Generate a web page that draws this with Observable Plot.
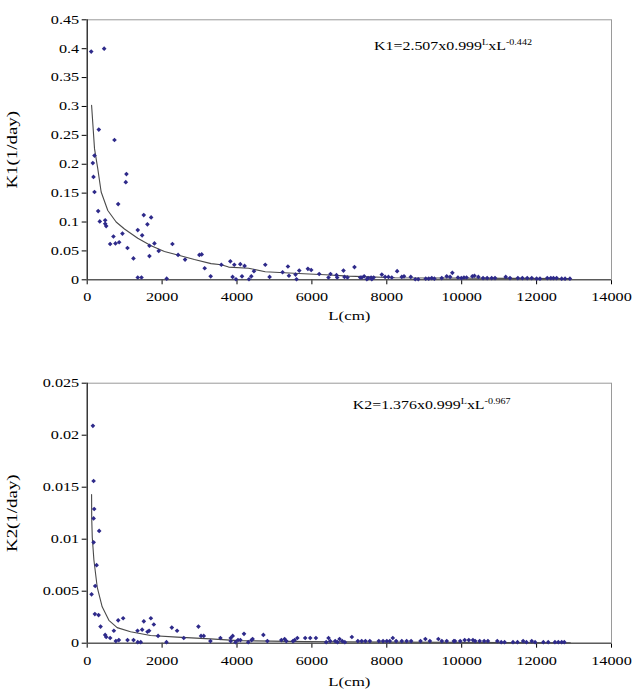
<!DOCTYPE html>
<html>
<head>
<meta charset="utf-8">
<script src="https://cdn.jsdelivr.net/npm/d3@7"></script>
<script src="https://cdn.jsdelivr.net/npm/@observablehq/plot@0.6"></script>
<style>
  html, body { margin: 0; padding: 0; background: #fff; }
  #wrap { width: 633px; }
  #wrap svg { display: block; }
</style>
</head>
<body>
<div id="wrap"></div>
<script>
// ---------- tick labels ----------
const xTicks = [0, 2000, 4000, 6000, 8000, 10000, 12000, 14000];
const yTicks1 = [0, 0.05, 0.1, 0.15, 0.2, 0.25, 0.3, 0.35, 0.4, 0.45];
const yTicks2 = [0, 0.005, 0.01, 0.015, 0.02, 0.025];
const xLabel = "L(cm)";
const yLabel1 = "K1(1/day)";
const yLabel2 = "K2(1/day)";

// ---------- K1 observations ----------
const k1L = [107,453,310,728,195,150,168,195,1048,1030,293,336,480,480,507,827,613,701,755,853,941,1075,1235,1350,1467,1510,1608,1707,1662,1795,1662,1910,1350,1450,2123,2275,2427,2613,2995,3057,3137,3297,3582,3822,3928,4088,4203,3883,3973,4133,4320,4382,4453,4755,4870,5217,5360,5387,5563,5590,5662,5893,5982,6195,6443,6497,6657,6675,6843,6870,6950,7137,7290,7333,7395,7467,7500,7580,7600,7650,7867,7955,8044,8133,8276,8400,8460,8640,8760,8840,9040,9120,9200,9270,9467,9600,9690,9750,9900,9990,10060,10130,10285,10340,10445,10570,10680,10800,10890,11175,11290,11500,11620,11750,11870,12000,12090,12285,12380,12450,12535,12670,12760,12890];
const k1V = [0.395,0.400,0.260,0.242,0.215,0.202,0.178,0.152,0.183,0.169,0.119,0.101,0.103,0.097,0.093,0.131,0.062,0.075,0.063,0.065,0.080,0.055,0.037,0.086,0.077,0.112,0.096,0.108,0.059,0.063,0.041,0.050,0.004,0.004,0.002,0.062,0.043,0.035,0.043,0.044,0.020,0.006,0.026,0.032,0.026,0.027,0.024,0.005,0.001,0.006,0.001,0.006,0.015,0.026,0.005,0.013,0.023,0.007,0.009,0.001,0.016,0.019,0.017,0.010,0.004,0.010,0.008,0.004,0.016,0.005,0.004,0.022,0.004,0.004,0.006,0.001,0.003,0.004,0.001,0.004,0.009,0.005,0.005,0.004,0.015,0.005,0.006,0.005,0.001,0.001,0.002,0.002,0.003,0.002,0.003,0.006,0.005,0.012,0.004,0.003,0.004,0.004,0.006,0.007,0.005,0.003,0.003,0.003,0.003,0.005,0.003,0.003,0.003,0.003,0.003,0.002,0.002,0.003,0.003,0.003,0.003,0.002,0.002,0.002];

// ---------- K1 trend line ----------
const fit1L = [117,195,283,373,550,773,995,1350,1707,2062,2417,2862,3307,3582,3777,4310,4755,5644,6355,6977,8222,9500,12900];
const fit1V = [0.302,0.227,0.192,0.152,0.120,0.100,0.088,0.072,0.059,0.049,0.043,0.035,0.028,0.026,0.022,0.020,0.014,0.011,0.0087,0.0063,0.0035,0.003,0.002];

// ---------- K2 observations ----------
const k2L = [152,171,187,171,320,171,251,213,117,205,304,357,480,507,613,712,765,845,827,960,1077,1237,1344,1350,1430,1467,1512,1610,1653,1700,1779,1893,2117,2259,2400,2579,2970,3040,3112,3290,3557,3832,3885,3832,3960,4027,4090,4187,4300,4390,4417,4704,4811,5184,5272,5317,5495,5540,5611,5821,5955,6107,6381,6444,6489,6622,6684,6739,6810,6880,7067,7227,7330,7430,7547,7787,7900,8000,8080,8160,8250,8400,8530,8650,8900,9030,9150,9376,9470,9600,9790,9820,9960,10080,10190,10300,10360,10480,10600,10700,10950,11055,11145,11370,11490,11640,11730,11870,11960,12180,12310,12490,12580,12670,12740];
const k2V = [0.0209,0.0156,0.0129,0.0120,0.0108,0.0097,0.0075,0.0055,0.0047,0.0028,0.0027,0.0016,0.0008,0.0006,0.0005,0.0012,0.0002,0.0003,0.0022,0.0024,0.0003,0.0003,0.0012,0.0001,0.0001,0.0013,0.0021,0.0011,0.0012,0.0024,0.0018,0.0007,0.0001,0.0015,0.0012,0.0005,0.0016,0.0007,0.0007,0.0002,0.0005,0.0005,0.0007,0.0002,0.0001,0.0003,0.0003,0.0009,0.0001,0.0003,0.0004,0.0008,0.0002,0.0003,0.0004,0.0002,0.0002,0.0003,0.0005,0.0005,0.0005,0.0005,0.0001,0.0005,0.0002,0.0002,0.0001,0.0004,0.0002,0.0001,0.0006,0.0002,0.0002,0.0002,0.0002,0.0002,0.0002,0.0002,0.0002,0.0005,0.0002,0.0002,0.0002,0.0002,0.0002,0.0004,0.0002,0.0004,0.0002,0.0002,0.0002,0.0002,0.0002,0.0003,0.0003,0.0003,0.0002,0.0002,0.0002,0.0002,0.0002,0.0001,0.0001,0.0001,0.0001,0.0002,0.0001,0.0002,0.0001,0.0001,0.0001,0.0001,0.0001,0.0001,0.0001];

// ---------- K2 trend line ----------
const fit2L = [117,120,135,179,267,400,579,800,1157,1690,2400,3290,4027,4915,5800,7930,12900];
const fit2V = [0.0143,0.0121,0.0102,0.0080,0.0054,0.0035,0.0022,0.0015,0.0011,0.00074,0.00058,0.00042,0.00025,0.0002,0.00015,0.0001,0.00005];

// ---------- equations (annotation anchor in data units) ----------
const eq1 = {L: 7660, K: 0.404, parts: [["K1=2.507x0.999", false], ["L", true], ["xL", false], ["-0.442", true]]};
const eq2 = {L: 7090, K: 0.0229, parts: [["K2=1.376x0.999", false], ["L", true], ["xL", false], ["-0.967", true]]};

const zip = (a, b) => a.map((v, i) => ({L: v, K: b[i]}));
const fmt = d => String(d);
const STRETCH = 1.35;
const W = 633, ML = 86.7, MR = 22;

function makeChart({height, mt, mb, yDomain, yTicks, pts, fit, eq, yLabel, xLabDy}) {
  const eqStr = eq.parts.map(p => p[0]).join("");
  const svg = Plot.plot({
    width: W,
    height,
    marginLeft: ML,
    marginRight: MR,
    marginTop: mt,
    marginBottom: mb,
    style: {fontFamily: "'Liberation Serif', 'Times New Roman', serif", fontSize: "12px", background: "#fff", color: "#000", overflow: "visible"},
    x: {domain: [0, 14000], ticks: xTicks, tickFormat: fmt, label: null, tickSize: 5, tickPadding: 8},
    y: {domain: yDomain, ticks: yTicks, tickFormat: fmt, label: null, tickSize: 5, tickPadding: 3},
    marks: [
      Plot.frame({stroke: "#9a9a9a"}),
      Plot.ruleY([0], {stroke: "#333"}),
      Plot.ruleX([0], {stroke: "#000"}),
      Plot.line(fit, {x: "L", y: "K", stroke: "#4a4a4a", strokeWidth: 1.1}),
      Plot.dot(pts, {x: "L", y: "K", symbol: "diamond2", r: 2.1, fill: "#2e2a8a", stroke: "none"}),
      Plot.text([eq], {x: "L", y: "K", text: () => eqStr, textAnchor: "start", fontSize: 11.8}),
      Plot.text([yLabel], {frameAnchor: "left", fontSize: 14}),
      Plot.text([xLabel], {frameAnchor: "bottom", dy: xLabDy, fontSize: 12.5})
    ]
  });
  const root = d3.select(svg);
  // superscripts in the equation
  root.selectAll("text").filter(function () { return this.textContent === eqStr; }).each(function () {
    const t = d3.select(this);
    t.selectAll("*").remove();
    t.text(null);
    let raised = false;
    eq.parts.forEach(([s, sup]) => {
      const ts = t.append("tspan").text(s);
      if (sup) { ts.attr("font-size", 7.5); if (!raised) { ts.attr("dy", -5); raised = true; } }
      else if (raised) { ts.attr("dy", 5); raised = false; }
    });
  });
  // the reference typography is horizontally wide: stretch every text along its writing direction
  root.selectAll("text").each(function () {
    if (this.textContent === yLabel) return;
    const tr = this.getAttribute("transform") || "";
    this.setAttribute("transform", (tr + ` scale(${STRETCH},1)`).trim());
  });
  // rotated y-axis title, centred on the plot's vertical extent
  root.selectAll("text").filter(function () { return this.textContent === yLabel; }).each(function () {
    const cy = mt + (height - mt - mb) / 2;
    this.removeAttribute("x");
    this.removeAttribute("y");
    this.setAttribute("text-anchor", "middle");
    this.setAttribute("transform", `translate(${ML - 70},${cy}) rotate(-90) scale(${STRETCH},1)`);
  });
  return svg;
}

const wrap = document.getElementById("wrap");
wrap.appendChild(makeChart({height: 345, mt: 19.3, mb: 65.7, yDomain: [0, 0.45], yTicks: yTicks1, pts: zip(k1L, k1V), fit: zip(fit1L, fit1V), eq: eq1, yLabel: yLabel1, xLabDy: 40}));
wrap.appendChild(makeChart({height: 350, mt: 37.7, mb: 52.3, yDomain: [0, 0.025], yTicks: yTicks2, pts: zip(k2L, k2V), fit: zip(fit2L, fit2V), eq: eq2, yLabel: yLabel2, xLabDy: 43}));
</script>
</body>
</html>
